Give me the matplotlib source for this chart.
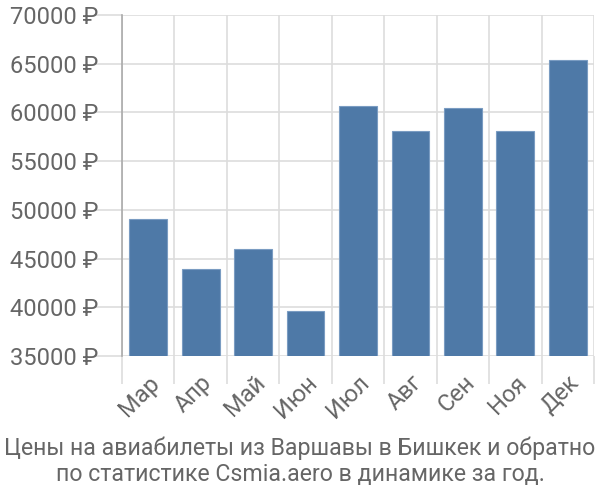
import numpy as np
import matplotlib.pyplot as plt
from matplotlib.ticker import FixedLocator

plt.rcParams['font.family'] = ['Roboto', 'DejaVu Sans']

# Data
months = ['Мар', 'Апр', 'Май', 'Июн', 'Июл', 'Авг', 'Сен', 'Ноя', 'Дек']
prices = [49050, 43900, 45950, 39650, 60650, 58050, 60450, 58050, 65350]
yticks = [35000, 40000, 45000, 50000, 55000, 60000, 65000, 70000]

text_color = '#666666'
grid_color = '#dddddd'

fig = plt.figure(figsize=(6, 5), dpi=100)
ax = fig.add_axes([0.2033, 0.288, 0.7867, 0.682])

x = np.arange(len(months))
ax.bar(x, prices, width=0.72, color='#4e79a7', edgecolor='#7a9cc2', linewidth=0.8, zorder=3)

ax.set_xlim(-0.5, len(months) - 0.5)
ax.set_ylim(35000, 70000)

# y axis: gridlines and ticks that reach left of the spine
ax.set_yticks(yticks)
ax.set_yticklabels([f'{v} ₽' for v in yticks])
ax.yaxis.grid(True, color=grid_color, linewidth=1.2, zorder=0)
ax.tick_params(axis='y', length=20, width=1.2, color=grid_color, labelsize=17,
               labelcolor=text_color, pad=-3)

# x axis: category labels at centres, grid at category boundaries
ax.set_xticks(x)
ax.set_xticklabels(months, rotation=45, ha='right', rotation_mode='anchor')
ax.tick_params(axis='x', which='major', length=0, labelsize=17, labelcolor=text_color, pad=11)
ax.xaxis.set_minor_locator(FixedLocator(np.arange(-0.5, len(months), 1.0)))
ax.tick_params(axis='x', which='minor', length=20, width=1.2, color=grid_color)
ax.xaxis.grid(True, which='minor', color=grid_color, linewidth=1.2, zorder=0)

for side in ['top', 'right', 'bottom']:
    ax.spines[side].set_visible(False)
ax.spines['left'].set_color('#aaaaaa')
ax.spines['left'].set_linewidth(1.2)
ax.spines['left'].set_zorder(4)

fig.text(0.5, 0.128, 'Цены на авиабилеты из Варшавы в Бишкек и обратно\nпо статистике Csmia.aero в динамике за год.',
         ha='center', va='top', fontsize=16.7, color=text_color, linespacing=1.2)

plt.savefig('out.png', dpi=100)
